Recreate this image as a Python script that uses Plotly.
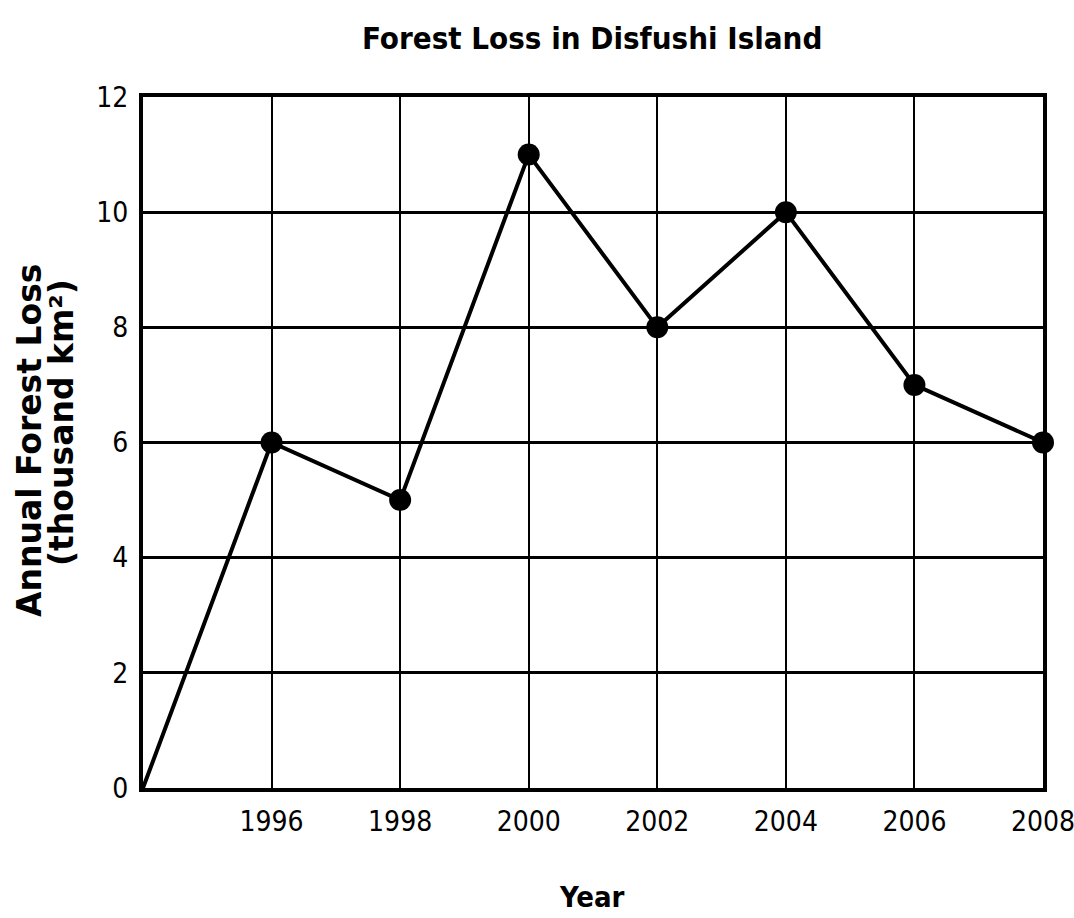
import plotly.graph_objects as go

years = [1994, 1996, 1998, 2000, 2002, 2004, 2006, 2008]
loss = [0, 6, 5, 11, 8, 10, 7, 6]
x_ticks = [1996, 1998, 2000, 2002, 2004, 2006, 2008]
y_ticks = [0, 2, 4, 6, 8, 10, 12]

narrow = "Liberation Sans Narrow, Noto Sans Condensed, DejaVu Sans Condensed, sans-serif"
wide = "DejaVu Sans, Verdana, sans-serif"

L, R, T, B = 143, 31, 97, 130
W, H = 1074, 918
PW, PH = W - L - R, H - T - B


def px(x):
    return (x - L) / PW


def py(y):
    return (H - B - y) / PH


fig = go.Figure()
fig.add_trace(go.Scatter(
    x=years, y=loss, mode="lines",
    line=dict(color="black", width=4),
    hoverinfo="skip", showlegend=False, cliponaxis=False,
))
fig.add_trace(go.Scatter(
    x=years[1:], y=loss[1:], mode="markers",
    marker=dict(color="black", size=22),
    showlegend=False, cliponaxis=False,
))

annotations = [
    dict(text="<b>Forest Loss in Disfushi Island</b>", x=px(592), y=py(38),
         font=dict(family=narrow, size=31, color="black")),
    dict(text="<b>Year</b>", x=px(592), y=py(897),
         font=dict(family=narrow, size=29, color="black")),
    dict(text="<b>Annual Forest Loss</b>", x=px(29), y=py(440), textangle=-90,
         font=dict(family=wide, size=33, color="black")),
    dict(text="<b>(thousand km²)</b>", x=px(61), y=py(423), textangle=-90,
         font=dict(family=wide, size=33, color="black")),
]
for a in annotations:
    a.update(xref="paper", yref="paper", xanchor="center", yanchor="middle",
             showarrow=False)

fig.update_layout(
    width=W, height=H,
    margin=dict(l=L, r=R, t=T, b=B),
    paper_bgcolor="white", plot_bgcolor="white",
    annotations=annotations,
    xaxis=dict(
        range=[1994, 2008], tickvals=x_ticks, ticktext=[str(v) for v in x_ticks],
        showgrid=True, gridcolor="black", gridwidth=2,
        showline=True, linecolor="black", linewidth=4, mirror=True,
        ticks="", ticklabelstandoff=5, ticklabeloverflow="allow",
        tickfont=dict(family=narrow, size=28, color="black"),
        zeroline=False, fixedrange=True, automargin=False,
    ),
    yaxis=dict(
        range=[0, 12], tickvals=y_ticks, ticktext=[str(v) for v in y_ticks],
        showgrid=True, gridcolor="black", gridwidth=2.5,
        showline=True, linecolor="black", linewidth=4, mirror=True,
        ticks="", ticklabelstandoff=5, ticklabeloverflow="allow",
        tickfont=dict(family=narrow, size=28, color="black"),
        zeroline=False, fixedrange=True, automargin=False,
    ),
)

fig.write_html(
    "out.html",
    config={"displayModeBar": False},
    post_script="document.body.style.margin='0';document.body.style.overflow='hidden';",
)
